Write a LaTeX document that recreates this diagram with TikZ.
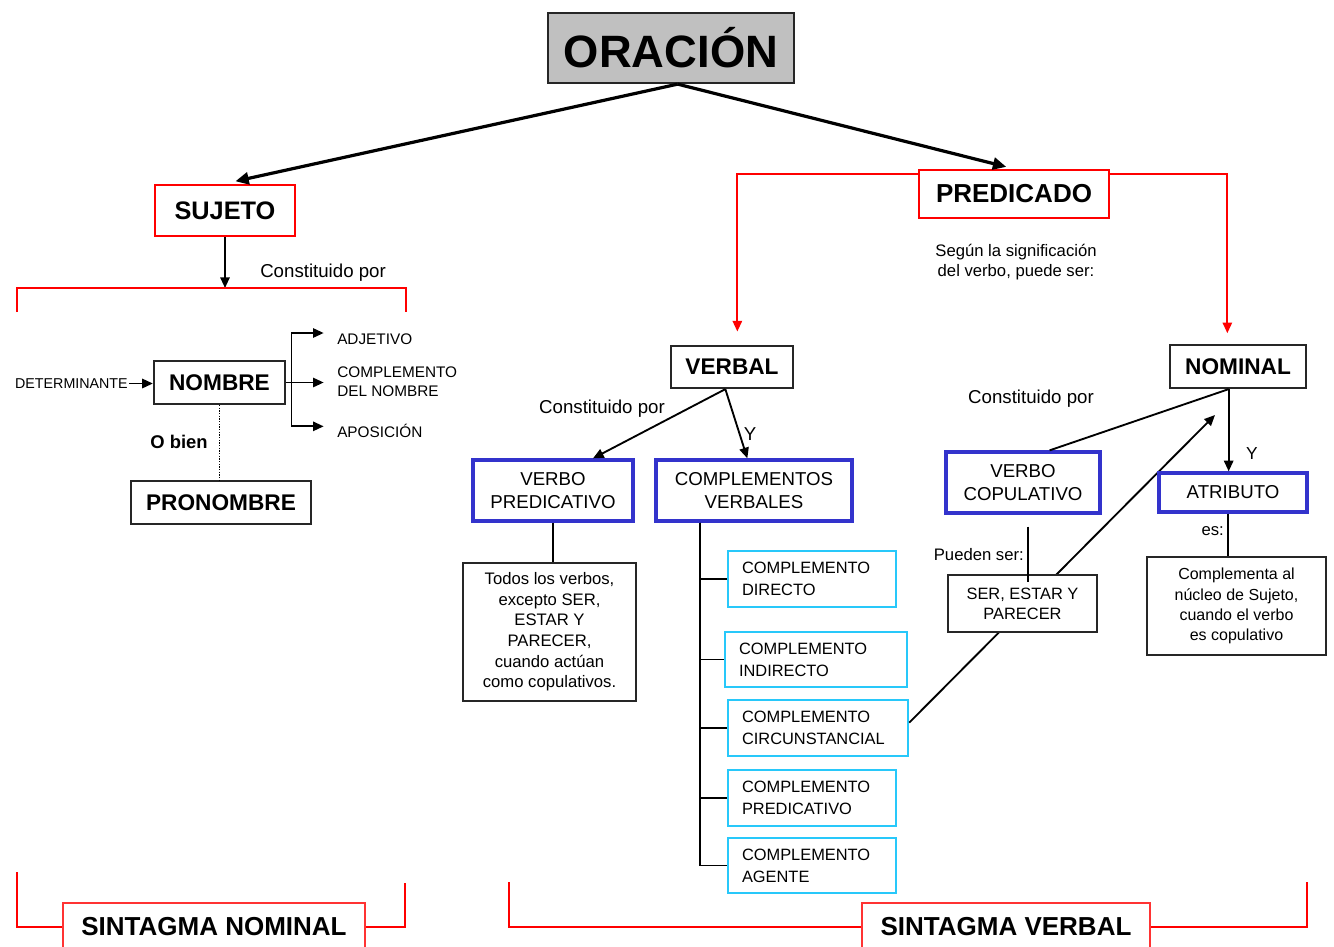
\documentclass[tikz,border=0pt]{standalone}
\usepackage{fontspec}
\setmainfont{Liberation Sans}
\usetikzlibrary{arrows.meta,positioning}
\definecolor{boxblue}{RGB}{51,51,204}
\definecolor{boxcyan}{RGB}{40,200,250}
\definecolor{boxgray}{RGB}{192,192,192}
\newcommand\fsz[2]{\fontsize{#1}{#2}\selectfont}

\tikzset{
  box/.style={draw=black!85, line width=1.7pt, fill=white, inner sep=0pt, align=center},
  redbox/.style={box, draw=red, line width=2.2pt},
  bluebox/.style={box, draw=boxblue, line width=2.5pt, font=\fsz{14}{17.25}},
  cyanbox/.style={box, draw=boxcyan, line width=1.8pt, inner xsep=10.5pt, align=left, minimum height=42pt, font=\fsz{12.3}{16.5}},
  lbl/.style={inner sep=0pt, font=\fsz{14}{17}},
  small/.style={inner sep=0pt, font=\fsz{12.5}{15}},
  conn/.style={line width=1.4pt},
  tip/.style={conn, -{Triangle[length=8pt,width=7pt]}},
  redline/.style={draw=red, line width=1.4pt},
}

\begin{document}
\begin{tikzpicture}[x=0.75pt, y=-0.75pt]
    \useasboundingbox (0,0) rectangle (1334,946);
    % Oracion
    \node[box, fill=boxgray, minimum width=184.5pt, minimum height=52.5pt, font=\bfseries\fsz{34}{40}] (oracion) at (671,48) {ORACIÓN};
    \node[redbox, minimum width=105pt, minimum height=38.25pt, font=\bfseries\fsz{19}{22}] (sujeto) at (225,210.5) {SUJETO};
    \node[redbox, line width=1.8pt, minimum width=142.5pt, minimum height=36pt, font=\bfseries\fsz{19.5}{22}] (predicado) at (1014,194) {PREDICADO};
    \draw[line width=2.4pt, -{Triangle[length=10pt,width=9pt]}, shorten >=8pt] ([xshift=5pt]oracion.south) -- (sujeto.north);
    \draw[line width=2.4pt, -{Triangle[length=10pt,width=9pt]}, shorten >=6pt] ([xshift=5pt]oracion.south) -- (predicado.north);

    % Sujeto
    \coordinate (snbar) at (225,288);
    \draw[tip] (sujeto.south) -- (snbar);
    \draw[redline] (17,312) -- (17,288) -- (406,288) -- (406,312);
    \node[lbl, anchor=west] (constsn) at (260,273) {Constituido por};
    \node[box, minimum width=98.25pt, minimum height=32.25pt, font=\bfseries\fsz{17}{20}] (nombre) at (219.5,382.5) {NOMBRE};
    \node[inner sep=0pt, font=\fsz{10.7}{13}, anchor=east] (determ) at (128,383.5) {DETERMINANTE};
    \draw[tip] ([xshift=1pt]determ.east) -- (determ.east -| nombre.west);
    \node[inner sep=0pt, font=\fsz{11.5}{14.25}, anchor=west] (adj) at (337,339) {ADJETIVO};
    \node[inner sep=0pt, font=\fsz{11.5}{14.25}, anchor=west, align=left] (cdn) at (337,381.5) {COMPLEMENTO\\DEL NOMBRE};
    \node[inner sep=0pt, font=\fsz{11.5}{14.25}, anchor=west] (apos) at (337,431) {APOSICIÓN};
    \coordinate (fork) at ([xshift=4pt]nombre.east);
    \coordinate (cdnarr) at ([xshift=-10pt]cdn.west);
    \draw[tip] (nombre.east) -- (nombre.east -| cdnarr);
    \draw[tip] (fork) |- ([xshift=-10pt,yshift=4.5pt]adj.west);
    \draw[tip] (fork) |- ([xshift=-10pt,yshift=3.5pt]apos.west);
    \node[box, minimum width=135pt, minimum height=32.25pt, font=\bfseries\fsz{17}{20}] (pronombre) at (221,502.5) {PRONOMBRE};
    \draw[densely dotted, line width=1pt] (nombre.south) -- (nombre.south |- pronombre.north);
    \node[inner sep=0pt, font=\bfseries\fsz{13.8}{16}] (obien) at (179,442) {O bien};

    % Predicado
    \node[box, minimum width=91.5pt, minimum height=31.5pt, font=\bfseries\fsz{17}{20}] (verbal) at (732,367) {VERBAL};
    \node[box, minimum width=102pt, minimum height=32.25pt, font=\bfseries\fsz{17}{20}] (nominal) at (1238,366.5) {NOMINAL};
    \draw[redline, -{Triangle[length=8pt,width=7pt]}] ([yshift=-4pt]predicado.north west) -| ([xshift=4pt,yshift=10pt]verbal.north);
    \draw[redline, -{Triangle[length=8pt,width=7pt]}] ([yshift=-4pt]predicado.north east) -| ([xshift=-8pt,yshift=8pt]nominal.north);
    \node[small, align=center] (segun) at (1016,262) {Según la significación\\del verbo, puede ser:};

    % Verbal
    \node[bluebox, minimum width=120pt, minimum height=45.75pt] (verbopred) at (553,490.5) {VERBO\\PREDICATIVO};
    \node[bluebox, minimum width=147pt, minimum height=45.75pt] (compverb) at (754,490.5) {COMPLEMENTOS\\VERBALES};
    \draw[tip] ([xshift=-5pt]verbal.south) -- ([xshift=30pt]verbopred.north);
    \draw[tip] ([xshift=-5pt]verbal.south) -- ([xshift=-5pt]compverb.north);
    \node[lbl] (constv) at (602,409) {Constituido por};
    \node[lbl] (yv) at (750,434) {Y};
    \node[box, minimum width=129.75pt, minimum height=103.5pt, font=\fsz{12.5}{15.5}] (todos) at (549.5,632) {Todos los verbos,\\excepto SER,\\ESTAR Y\\PARECER,\\cuando actúan\\como copulativos.};
    \draw[conn] (verbopred.south) -- (verbopred.south |- todos.north);
    \node[cyanbox, text width=105pt] (cd) at (812,579) {COMPLEMENTO\\DIRECTO};
    \node[cyanbox, text width=115.5pt, minimum height=41.25pt] (ci) at (816,659.5) {COMPLEMENTO\\INDIRECTO};
    \node[cyanbox, text width=114pt] (cc) at (818,728) {COMPLEMENTO\\CIRCUNSTANCIAL};
    \node[cyanbox, text width=105pt] (cp) at (812,798) {COMPLEMENTO\\PREDICATIVO};
    \node[cyanbox, text width=105pt, minimum height=41.25pt] (ca) at (812,865.5) {COMPLEMENTO\\AGENTE};
    \coordinate (trunk) at ([xshift=34pt]compverb.south west);
    \foreach \c in {cd,ci,cc,cp,ca}
        \draw[conn] (trunk) |- (\c.west);

    % Nominal
    \coordinate (copend) at (1215,415);
    \draw[tip] ([yshift=4pt]cc.east) -- (copend);
    \node[bluebox, minimum width=115.5pt, minimum height=45.75pt] (verbocop) at (1023,482.5) {VERBO\\COPULATIVO};
    \node[bluebox, minimum width=111pt, minimum height=29.25pt] (atributo) at (1233,492.5) {ATRIBUTO};
    \coordinate (nomfoot) at ([xshift=-7pt]nominal.south);
    \draw[conn] (nomfoot) -- ([xshift=20pt]verbocop.north);
    \draw[tip] (nomfoot) -- (nomfoot |- atributo.north);
    \node[lbl] (constn) at (1031,399) {Constituido por};
    \node[inner sep=0pt, font=\fsz{13}{15}] (yn) at (1252,454) {Y};
    \node[box, minimum width=111.75pt, minimum height=42.75pt, font=\fsz{12.3}{15}] (ser) at (1022.5,603.5) {SER, ESTAR Y\\PARECER};
    \coordinate (copfoot) at ([xshift=4pt,yshift=-9pt]verbocop.south);
    \coordinate (serin) at ([xshift=4pt,yshift=-6pt]ser.north);
    \draw[conn] (copfoot) -- (copfoot |- serin);
    \node[small, anchor=east] (pueden) at (1024,555) {Pueden ser:};
    \node[box, minimum width=134.25pt, minimum height=73.5pt, font=\fsz{12}{15.2}] (compl) at (1236.5,606) {Complementa al\\núcleo de Sujeto,\\cuando el verbo\\es copulativo};
    \coordinate (atrfoot) at ([xshift=-4pt]atributo.south);
    \draw[conn] (atrfoot) -- (atrfoot |- compl.north);
    \node[small, anchor=east] (es) at (1224,531) {es:};

    % Sintagmas
    \node[box, draw=red!80, line width=1.8pt, minimum width=226.5pt, minimum height=36pt, font=\bfseries\fsz{19.5}{22}] (sn) at (214,927) {SINTAGMA NOMINAL};
    \node[box, draw=red!80, line width=1.8pt, minimum width=216pt, minimum height=36pt, font=\bfseries\fsz{19.5}{22}] (sv) at (1006,927) {SINTAGMA VERBAL};
    \coordinate (snl) at (17,872);
    \coordinate (snr) at (405,883);
    \coordinate (svl) at (509,882);
    \coordinate (svr) at (1307,882);
    \draw[redline] (snl) |- (sn.west);
    \draw[redline] (sn.east) -| (snr);
    \draw[redline] (svl) |- (sv.west);
    \draw[redline] (sv.east) -| (svr);
\end{tikzpicture}
\end{document}
